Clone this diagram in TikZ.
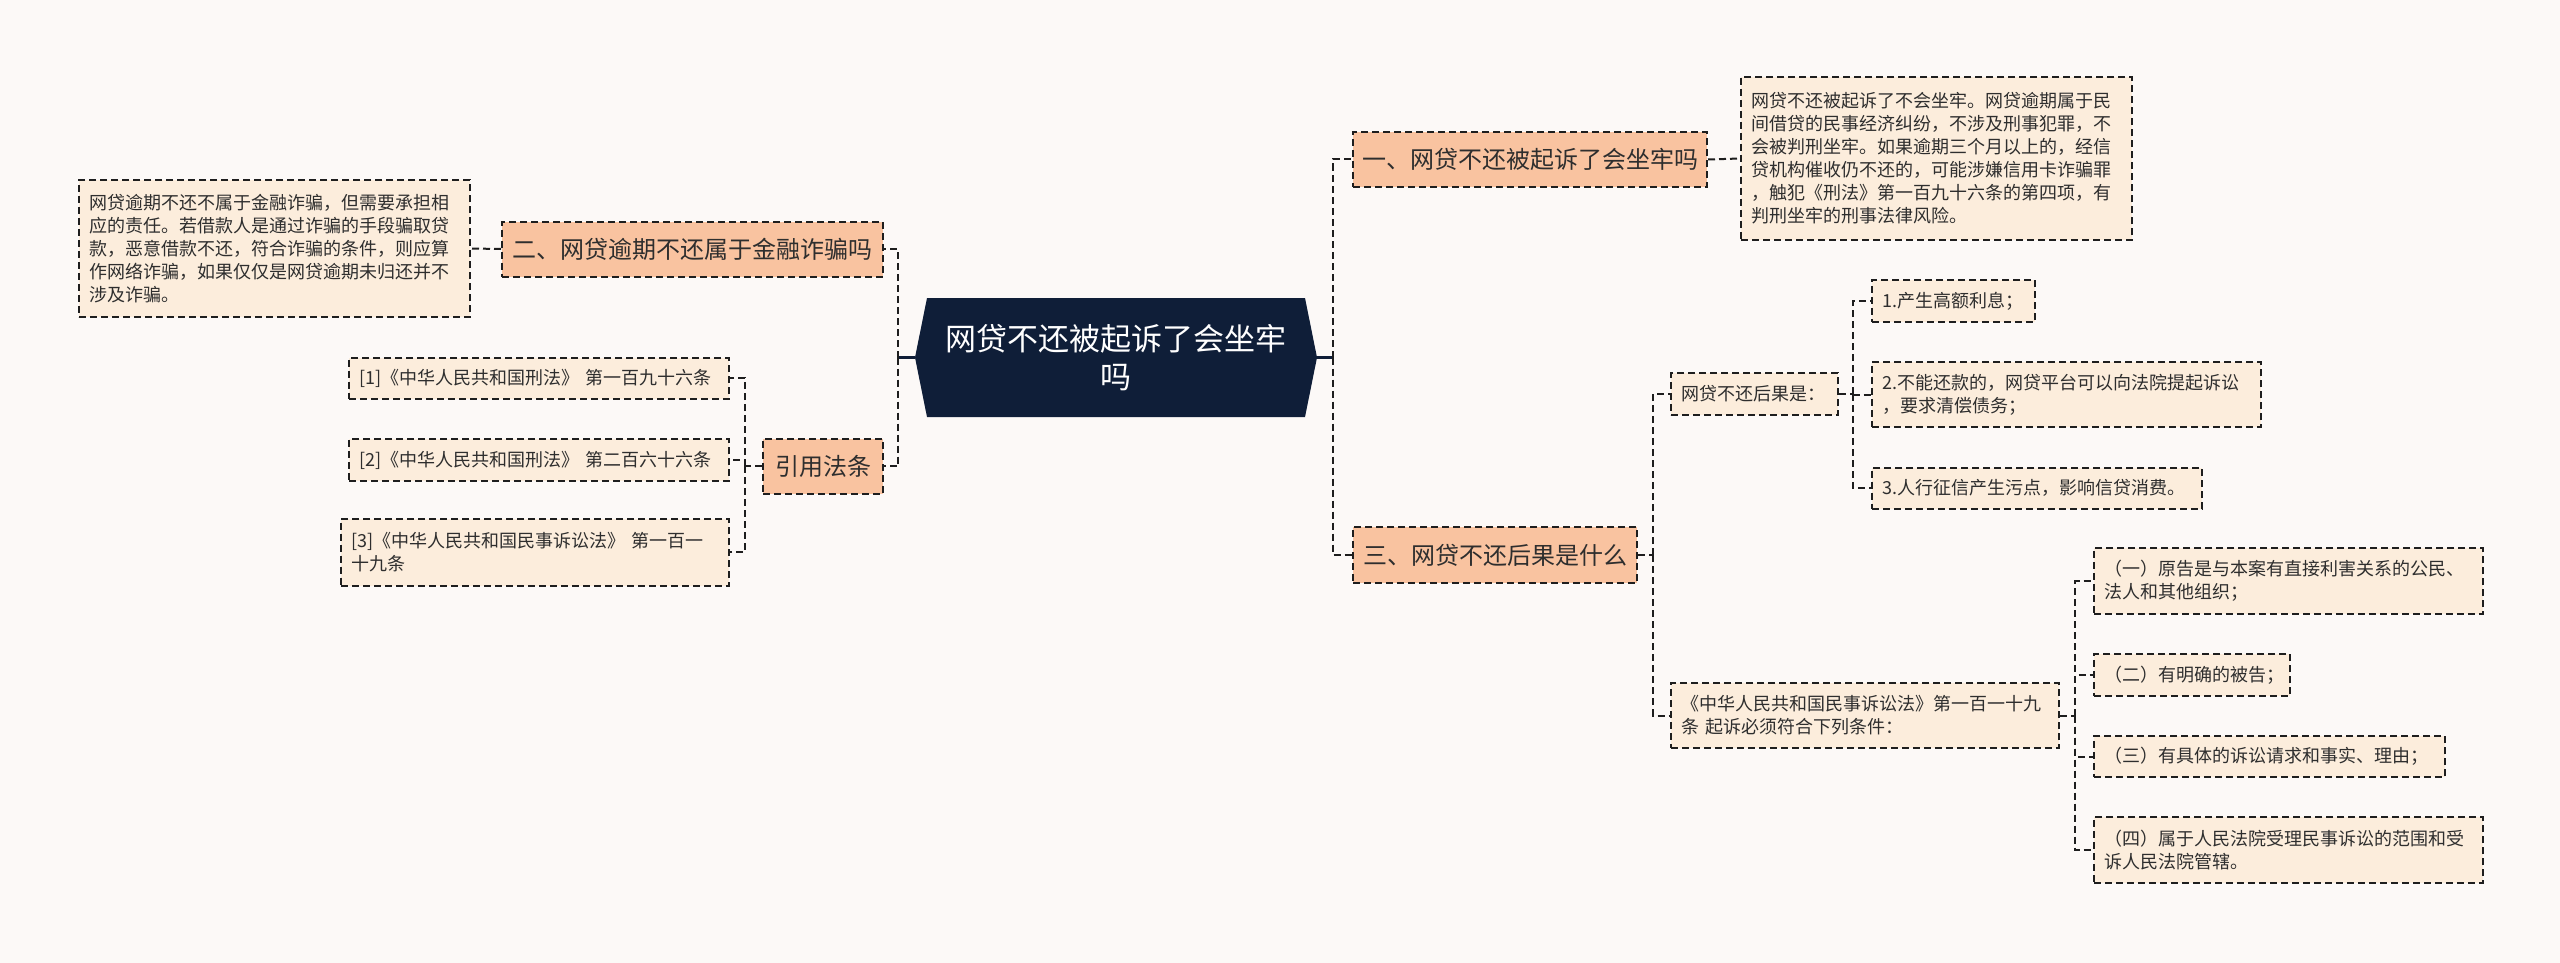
\documentclass[tikz,border=0pt]{standalone}
\usepackage{fontspec}
\setmainfont{Noto Sans CJK SC}
\usetikzlibrary{calc}
\definecolor{bg}{HTML}{FCF9F7}
\definecolor{navy}{HTML}{0F1E38}
\definecolor{peach}{HTML}{F9C3A0}
\definecolor{cream}{HTML}{FCEDDC}
\definecolor{ink}{HTML}{2E2E2E}
\definecolor{edge}{HTML}{1E1E1E}
\begin{document}
\begin{tikzpicture}[x=1pt,y=-1pt,
  box/.style={draw=edge, line width=2pt, dash pattern=on 7pt off 4pt, text=ink, anchor=west, inner ysep=0pt},
  lvl/.style={box, fill=peach, font=\fontsize{24}{28}\selectfont, align=center, inner xsep=0pt, minimum height=55pt},
  leaf/.style={box, fill=cream, font=\fontsize{18}{23}\selectfont, align=left, inner xsep=10pt},
  conn/.style={draw=edge, line width=2pt, dash pattern=on 7pt off 4pt},
  rootline/.style={draw=navy, line width=3.5pt},
]
\useasboundingbox (0,0) rectangle (2560,963);
\fill[bg] (0,0) rectangle (2560,963);

% central node
\coordinate (rootL) at (915,357.5);
\coordinate (rootR) at (1317,357.5);
\fill[navy] (927,298) -- (1305,298) -- (rootR) -- (1305,417) -- (927,417) -- (rootL) -- cycle;
\node[text=white, font=\fontsize{31}{38}\selectfont, align=center] (root) at (1116,357.5) {网贷不还被起诉了会坐牢\\吗};

% level 1
\node[lvl, minimum width=381pt] (n2) at (501,249) {二、网贷逾期不还属于金融诈骗吗};
\node[lvl, minimum width=120pt] (ref) at (762,466) {引用法条};
\node[lvl, minimum width=354pt] (n1) at (1352,159.5) {一、网贷不还被起诉了会坐牢吗};
\node[lvl, minimum width=284pt, minimum height=56pt] (n3) at (1352,555) {三、网贷不还后果是什么};

% leaves left
\node[leaf, text width=371pt, minimum height=137pt] (d2) at (78,248.5) {网贷逾期不还不属于金融诈骗，但需要承担相\\应的责任。若借款人是通过诈骗的手段骗取贷\\款，恶意借款不还，符合诈骗的条件，则应算\\作网络诈骗，如果仅仅是网贷逾期未归还并不\\涉及诈骗。};
\node[leaf, text width=360pt, minimum height=41pt] (r1) at (348,378) {[1]《中华人民共和国刑法》 第一百九十六条};
\node[leaf, text width=360pt, minimum height=42pt] (r2) at (348,460) {[2]《中华人民共和国刑法》 第二百六十六条};
\node[leaf, text width=368pt, minimum height=67pt] (r3) at (340,552) {[3]《中华人民共和国民事诉讼法》 第一百一\\十九条};

% leaves right
\node[leaf, text width=371pt, minimum height=163pt] (d1) at (1740,158.5) {网贷不还被起诉了不会坐牢。网贷逾期属于民\\间借贷的民事经济纠纷，不涉及刑事犯罪，不\\会被判刑坐牢。如果逾期三个月以上的，经信\\贷机构催收仍不还的，可能涉嫌信用卡诈骗罪\\，触犯《刑法》第一百九十六条的第四项，有\\判刑坐牢的刑事法律风险。};
\node[leaf, text width=147pt, minimum height=42pt] (c1) at (1670,394) {网贷不还后果是：};
\node[leaf, text width=143pt, minimum height=42pt] (a1) at (1871,301) {1.产生高额利息；};
\node[leaf, text width=369pt, minimum height=65pt] (a2) at (1871,394.5) {2.不能还款的，网贷平台可以向法院提起诉讼\\，要求清偿债务；};
\node[leaf, text width=310pt, minimum height=41pt] (a3) at (1871,488) {3.人行征信产生污点，影响信贷消费。};
\node[leaf, text width=368pt, minimum height=65pt] (c2) at (1670,715.5) {《中华人民共和国民事诉讼法》第一百一十九\\条 起诉必须符合下列条件：};
\node[leaf, text width=369pt, minimum height=66pt] (b1) at (2093,581) {（一）原告是与本案有直接利害关系的公民、\\法人和其他组织；};
\node[leaf, text width=176pt, minimum height=42pt] (b2) at (2093,675) {（二）有明确的被告；};
\node[leaf, text width=331pt, minimum height=41pt] (b3) at (2093,756.5) {（三）有具体的诉讼请求和事实、理由；};
\node[leaf, text width=369pt, minimum height=66pt] (b4) at (2093,850) {（四）属于人民法院受理民事诉讼的范围和受\\诉人民法院管辖。};

% trunks
\coordinate (tL) at (898,357.5);
\coordinate (tR) at (1333,357.5);
\coordinate (tref) at (745,466);
\coordinate (t3) at (1653,555);
\coordinate (tc1) at (1853,394);
\coordinate (tc2) at (2075,715.5);

\draw[rootline] (rootL) -- (tL);
\draw[rootline] (rootR) -- (tR);
\draw[conn] (tL) |- (n2.east);
\draw[conn] (tL) |- (ref.east);
\draw[conn] (tR) |- (n1.west);
\draw[conn] (tR) |- (n3.west);
\draw[conn] (n2.west) -- (d2.east);
\draw[conn] (n1.east) -- (d1.west);
\draw[conn] (ref.west) -- (tref);
\draw[conn] (tref) |- (r1.east);
\draw[conn] (tref) |- (r2.east);
\draw[conn] (tref) |- (r3.east);
\draw[conn] (n3.east) -- (t3);
\draw[conn] (t3) |- (c1.west);
\draw[conn] (t3) |- (c2.west);
\draw[conn] (c1.east) -- (tc1);
\draw[conn] (tc1) |- (a1.west);
\draw[conn] (tc1) |- (a2.west);
\draw[conn] (tc1) |- (a3.west);
\draw[conn] (c2.east) -- (tc2);
\draw[conn] (tc2) |- (b1.west);
\draw[conn] (tc2) |- (b2.west);
\draw[conn] (tc2) |- (b3.west);
\draw[conn] (tc2) |- (b4.west);
\end{tikzpicture}
\end{document}
